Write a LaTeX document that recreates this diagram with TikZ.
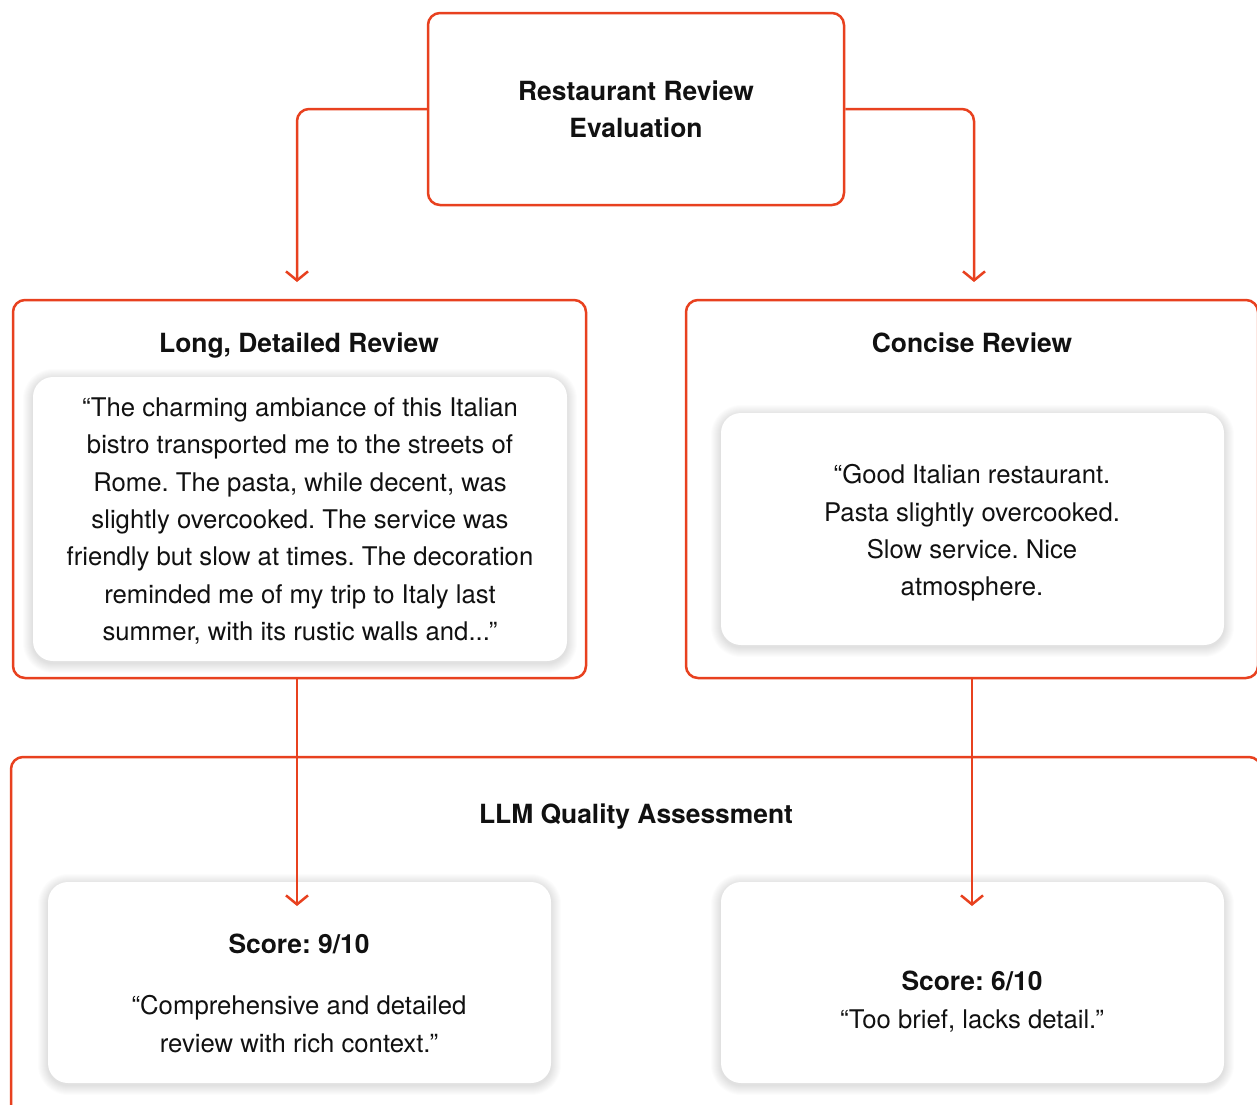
\documentclass[tikz,border=0pt]{standalone}
\usepackage{fontspec}
\setmainfont{TeX Gyre Heros}
\usetikzlibrary{arrows.meta}
\definecolor{accent}{HTML}{E8411F}
\definecolor{inktext}{HTML}{111111}
\frenchspacing
% soft halo under a card: centre x, centre y, width, height
\newcommand\cardhalo[4]{%
  \foreach \k in {1,...,10}{%
    \pgfmathsetmacro\hx{#3/2+\k}%
    \pgfmathsetmacro\hy{#4/2+\k}%
    \pgfmathsetmacro\hr{20+\k}%
    \fill[black,opacity=0.012,rounded corners=\hr pt]
      (#1-\hx,#2+2-\hy) rectangle (#1+\hx,#2+2+\hy);
  }}
\begin{document}
\begin{tikzpicture}[x=1pt,y=-1pt,
  frame/.style={draw=accent,line width=2.5pt,rounded corners=12pt,fill=white,inner sep=0pt},
  card/.style={fill=white,rounded corners=20pt,inner sep=0pt},
  flow/.style={draw=accent,line width=2.5pt,rounded corners=12pt,
    -{Straight Barb[length=9pt,width=22pt,line width=2.5pt]}},
  head/.style={font=\fontsize{26.4}{37.4}\selectfont\bfseries,text=inktext,align=center,inner sep=0pt},
  body/.style={font=\fontsize{25.7}{37.4}\selectfont,text=inktext,align=center,inner sep=0pt}]
\clip (0,0) rectangle (1257,1104);
\fill[white] (0,0) rectangle (1257,1104);

% top box
\node[frame,minimum width=416pt,minimum height=192pt] (top) at (636,109) {};
\node[head] (toptxt) at (636,109.5) {Restaurant Review\\Evaluation};

% review boxes
\node[frame,minimum width=573pt,minimum height=378pt] (long) at (299.5,489) {};
\node[head] (longtitle) at (299,346) {Long, Detailed Review};
\cardhalo{300}{519}{534}{284}
\node[card,minimum width=534pt,minimum height=284pt] (longcard) at (300,519) {};
\node[body] (longtxt) at (300,521) {“The charming ambiance of this Italian\\bistro transported me to the streets of\\Rome. The pasta, while decent, was\\slightly overcooked. The service was\\friendly but slow at times. The decoration\\reminded me of my trip to Italy last\\summer, with its rustic walls and...”};

\node[frame,minimum width=572pt,minimum height=378pt] (short) at (972,489) {};
\node[head] (shorttitle) at (972,343) {Concise Review};
\cardhalo{972.5}{529}{503}{232}
\node[card,minimum width=503pt,minimum height=232pt] (shortcard) at (972.5,529) {};
\node[body] (shorttxt) at (972,533) {“Good Italian restaurant.\\Pasta slightly overcooked.\\Slow service. Nice\\atmosphere.};

% assessment box
\node[frame,minimum width=1250pt,minimum height=368pt] (llm) at (636,941) {};
\node[head] (llmtitle) at (636,817) {LLM Quality Assessment};
\cardhalo{299.5}{982.5}{503}{201}
\node[card,minimum width=503pt,minimum height=201pt] (scoreA) at (299.5,982.5) {};
\node[head] (scoreAhead) at (299,944) {Score: 9/10};
\node[body] (scoreAtxt) at (299,1024) {“Comprehensive and detailed\\review with rich context.”};
\cardhalo{972.5}{982.5}{503}{201}
\node[card,minimum width=503pt,minimum height=201pt] (scoreB) at (972.5,982.5) {};
\node[body] (scoreBtxt) at (972,1001.5) {\fontsize{26.4}{37.4}\selectfont\bfseries Score: 6/10\\“Too brief, lacks detail.”};

% connectors
\coordinate (longin) at (297,282);
\coordinate (shortin) at (974,282);
\coordinate (scoreAin) at (297,906);
\coordinate (scoreBin) at (972,906);
\draw[flow] (top.west) -| (longin);
\draw[flow] (top.east) -| (shortin);
\draw[flow] (long.south -| scoreAin) -- (scoreAin);
\draw[flow] (short.south -| scoreBin) -- (scoreBin);
\end{tikzpicture}
\end{document}
